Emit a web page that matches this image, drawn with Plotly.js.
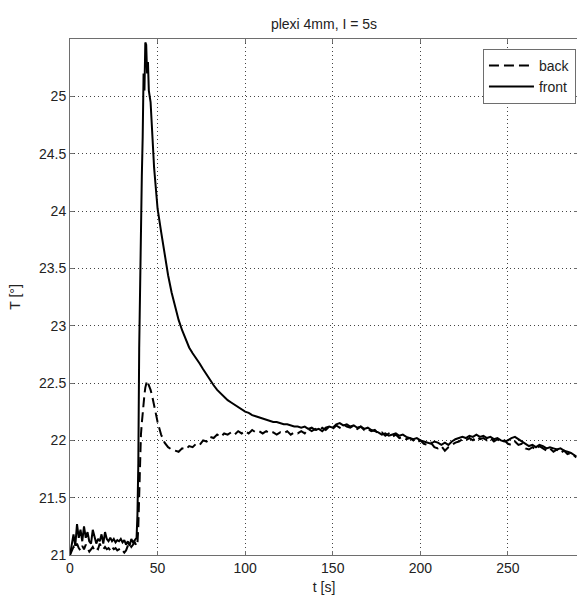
<!DOCTYPE html>
<html>
<head>
<meta charset="utf-8">
<script src="https://cdn.plot.ly/plotly-3.0.1.min.js"></script>
<style>
html,body{margin:0;padding:0;overflow:hidden;background:#fff;}
#chart{width:580px;height:600px;}
</style>
</head>
<body>
<div id="chart"></div>
<script>
// time [s]
var timeS = [
  0,1,2,3,4,5,6,7,8,9,
  10,11,12,13,14,15,16,17,18,19,
  20,21,22,23,24,25,26,27,28,29,
  30,31,32,33,34,35,36,37,38,
  38.5,39,39.5,40,40.5,41,41.5,42,42.5,43,
  43.5,44,44.5,45,46,47,48,49,50,
  52,54,56,58,60,62,64,66,68,70,
  72,74,76,78,80,82,84,86,88,90,
  92,94,96,98,100,102,104,106,108,110,
  112,114,116,118,120,122,124,126,128,130,
  132,134,136,138,140,142,144,146,148,150,
  152,154,156,158,160,162,164,166,168,170,
  172,174,176,178,180,182,184,186,188,190,
  192,194,196,198,200,202,204,206,208,210,
  212,214,216,218,220,222,224,226,228,230,
  232,234,236,238,240,242,244,246,248,250,
  252,254,256,258,260,262,264,266,268,270,
  272,274,276,278,280,282,284,286,288,
  289
];

// back sensor temperature [°]
var backT = [
  21.00,21.03,21.07,21.05,21.10,21.06,21.04,21.08,21.05,21.09,
  21.06,21.03,21.05,21.07,21.04,21.06,21.05,21.10,21.06,21.05,
  21.07,21.05,21.06,21.04,21.07,21.05,21.06,21.04,21.05,21.03,
  21.04,21.02,21.04,21.08,21.10,21.07,21.09,21.11,21.08,
  21.10,21.25,21.60,21.90,22.05,22.15,22.25,22.32,22.40,22.46,
  22.50,22.52,22.50,22.48,22.44,22.38,22.30,22.22,22.16,
  22.05,21.98,21.94,21.92,21.91,21.90,21.93,21.92,21.95,21.94,
  21.97,21.96,22.00,21.99,22.03,22.02,22.05,22.03,22.06,22.05,
  22.07,22.05,22.08,22.06,22.08,22.06,22.09,22.07,22.08,22.06,
  22.08,22.06,22.07,22.05,22.07,22.06,22.08,22.05,22.07,22.06,
  22.08,22.06,22.10,22.08,22.10,22.08,22.11,22.09,22.12,22.10,
  22.13,22.11,22.14,22.12,22.11,22.13,22.10,22.12,22.09,22.10,
  22.08,22.09,22.06,22.07,22.04,22.06,22.03,22.05,22.02,22.03,
  22.01,22.02,22.00,21.98,22.00,21.97,21.96,21.98,21.94,21.93,
  21.95,21.91,21.94,21.96,21.98,21.99,22.01,22.00,22.02,22.00,
  22.03,22.01,22.02,22.00,22.02,21.99,22.01,21.98,22.00,21.97,
  21.96,21.99,21.96,21.97,21.93,21.92,21.94,21.92,21.95,21.93,
  21.91,21.93,21.90,21.92,21.89,21.91,21.88,21.89,21.86,
  21.85
];

// front sensor temperature [°]
var frontT = [
  21.00,21.10,21.18,21.08,21.27,21.15,21.22,21.12,21.25,21.15,
  21.20,21.12,21.10,21.22,21.15,21.10,21.14,21.12,21.18,21.10,
  21.20,21.14,21.12,21.15,21.12,21.14,21.11,21.13,21.12,21.14,
  21.11,21.13,21.09,21.12,21.08,21.14,21.11,21.13,21.15,
  21.35,21.80,22.80,23.40,23.90,24.30,24.65,25.20,25.05,25.47,
  25.45,25.20,25.30,25.05,24.95,24.62,24.38,24.20,24.02,
  23.82,23.62,23.44,23.29,23.16,23.05,22.96,22.88,22.81,22.76,
  22.72,22.67,22.62,22.57,22.52,22.48,22.44,22.41,22.38,22.35,
  22.33,22.31,22.29,22.27,22.25,22.24,22.22,22.21,22.20,22.19,
  22.18,22.17,22.16,22.16,22.15,22.14,22.14,22.13,22.12,22.12,
  22.11,22.12,22.10,22.11,22.09,22.10,22.08,22.11,22.12,22.11,
  22.14,22.15,22.13,22.14,22.12,22.13,22.11,22.12,22.10,22.11,
  22.09,22.08,22.07,22.05,22.06,22.04,22.05,22.06,22.04,22.05,
  22.03,22.02,22.01,22.02,22.00,21.99,21.98,21.97,21.99,21.98,
  21.96,21.98,21.96,21.99,22.01,22.02,22.03,22.02,22.04,22.03,
  22.05,22.03,22.04,22.02,22.03,22.01,22.02,22.00,21.99,22.00,
  22.02,22.03,22.01,21.99,21.97,21.95,21.96,21.94,21.96,21.95,
  21.93,21.94,21.93,21.92,21.93,21.91,21.90,21.89,21.87,
  21.86
];

var seriesNames = ['back', 'front'];
var xTicks = [0, 50, 100, 150, 200, 250];
var yTicks = [21, 21.5, 22, 22.5, 23, 23.5, 24, 24.5, 25];

var FONT = 'Liberation Sans, Arial, Helvetica, sans-serif';
var AX = '#6e6e6e';

var traces = [
  {x: timeS, y: backT, name: seriesNames[0], type: 'scatter', mode: 'lines',
   line: {color: '#000', width: 2, dash: '10px,5px'}},
  {x: timeS, y: frontT, name: seriesNames[1], type: 'scatter', mode: 'lines',
   line: {color: '#000', width: 2}}
];

var axisCommon = {
  showline: true, linecolor: AX, linewidth: 1, mirror: 'ticks',
  ticks: 'inside', ticklen: 4, tickcolor: AX, tickwidth: 1,
  showgrid: true, gridcolor: '#444', gridwidth: 1, griddash: '1px,3px',
  zeroline: false,
  tickfont: {family: FONT, size: 14, color: '#222'}
};

var layout = {
  width: 580, height: 600,
  margin: {l: 70, r: 2, t: 39, b: 45},
  paper_bgcolor: '#fff', plot_bgcolor: '#fff',
  title: {text: 'plexi 4mm, I = 5s', font: {family: FONT, size: 14, color: '#222'},
          x: 0.5, xref: 'paper', xanchor: 'center', y: 1 - 24/600, yref: 'container', yanchor: 'middle'},
  xaxis: Object.assign({}, axisCommon, {
    range: [0, 290], tickvals: xTicks, ticktext: xTicks.map(String),
    title: {text: 't [s]', font: {family: FONT, size: 14, color: '#222'}, standoff: 7}
  }),
  yaxis: Object.assign({}, axisCommon, {
    range: [21, 25.5], tickvals: yTicks, ticktext: yTicks.map(String),
    title: {text: 'T [°]', font: {family: FONT, size: 14, color: '#222'}, standoff: 15}
  }),
  legend: {
    x: 0.996, xanchor: 'right', y: 0.981, yanchor: 'top',
    bgcolor: '#fff', bordercolor: AX, borderwidth: 1,
    font: {family: FONT, size: 14, color: '#222'},
    itemwidth: 45,
    tracegroupgap: 0
  },
  showlegend: true,
  hovermode: false
};

Plotly.newPlot('chart', traces, layout, {staticPlot: true, displayModeBar: false});
</script>
</body>
</html>
